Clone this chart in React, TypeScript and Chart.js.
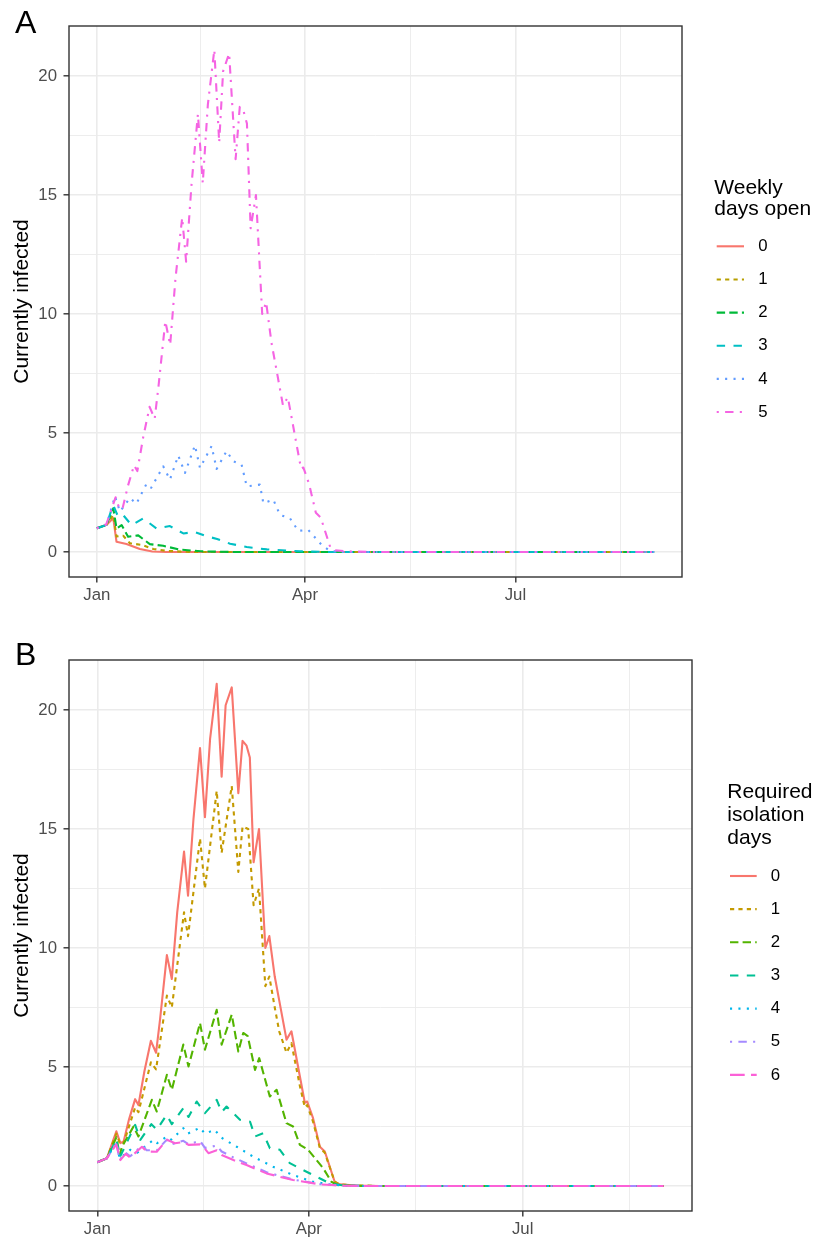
import React, { useEffect, useRef } from 'react';
import { Chart, registerables } from 'chart.js';

Chart.register(...registerables);

const FONT = '"Liberation Sans", Arial, Helvetica, sans-serif';

// ---- axis ticks ----
const monthTickDays = [0, 90, 181];
const monthTickLabels = ['Jan', 'Apr', 'Jul'];
const minorTickDays = [45, 135.5, 226.5];
const yMajorTicks = [0, 5, 10, 15, 20];
const yMinorTicks = [2.5, 7.5, 12.5, 17.5];
const xRange = [-12.05, 253.05];
const yRange = [-1.05, 22.1];

// ---- series styling (ggplot hue palette / linetypes) ----
const openLabels = ['0', '1', '2', '3', '4', '5'];
const openColors = ['#F8766D', '#B79F00', '#00BA38', '#00BFC4', '#619CFF', '#F564E3'];
const isoLabels = ['0', '1', '2', '3', '4', '5', '6'];
const isoColors = ['#F8766D', '#C49A00', '#53B400', '#00C094', '#00B6EB', '#A58AFF', '#FB61D7'];
const LW = 2.1;
const linetypes = [[], [2, 2], [4, 2], [4, 4], [1, 3], [1, 3, 4, 3], [7, 3]];

// ---- data: [day since Jan 1, currently infected] ----
// Baseline scenario (5 weekly days open, 0 isolation days)
const baseline: [number, number][] = [
  [0, 1.0], [4.1, 1.17], [8.1, 2.3], [9.8, 1.8], [11.2, 1.87], [13.5, 2.8], [16.1, 3.65], [17.5, 3.4],
  [20, 4.8], [22.8, 6.1], [25, 5.6], [26.7, 7.0], [29.6, 9.7], [31.7, 8.7], [34, 11.5], [36.9, 14.05],
  [38.6, 12.2], [40.9, 15.4], [43.7, 18.4], [45.8, 15.5], [48, 18.8], [50.8, 21.1], [52.9, 17.2],
  [54.6, 20.2], [57.2, 20.95], [60, 16.5], [61.8, 18.7], [63.5, 18.5], [64.9, 18.0], [66.5, 13.6],
  [68.8, 15.0], [71.5, 10.0], [73.2, 10.5], [75.5, 8.8], [77.4, 7.8], [80.5, 6.15], [82.6, 6.5],
  [86.2, 4.6], [88.3, 3.5], [89.3, 3.55], [91.8, 2.85], [94.7, 1.65], [96.8, 1.45], [101, 0.18],
  [103.1, 0.07], [110, 0.02], [120, 0], [241, 0],
];

// Panel A: weekly days open
const open0: [number, number][] = [
  [0, 1.0], [4.2, 1.14], [7.1, 1.42], [8.5, 0.43], [12.8, 0.34], [18.6, 0.13], [24, 0.02], [30, 0], [241, 0],
];
const open1: [number, number][] = [
  [0, 1.0], [4.2, 1.14], [7.1, 1.56], [8.5, 0.65], [11.4, 0.68], [14.3, 0.37], [19.3, 0.3], [24.4, 0.13],
  [30, 0.05], [40, 0], [241, 0],
];
const open2: [number, number][] = [
  [0, 1.0], [4.2, 1.14], [7.1, 1.84], [8.5, 0.99], [10.7, 1.13], [13.5, 0.64], [17.9, 0.7], [22.9, 0.33],
  [28.7, 0.26], [35.9, 0.1], [45, 0.03], [60, 0], [241, 0],
];
const open3: [number, number][] = [
  [0, 1.0], [4.2, 1.14], [7, 1.98], [9.2, 1.48], [11.4, 1.55], [15, 1.13], [20, 1.41], [25.8, 0.99],
  [31.6, 1.09], [37.4, 0.78], [42.4, 0.84], [47.5, 0.66], [52, 0.55], [57.6, 0.35], [64.8, 0.21],
  [73.5, 0.11], [87.8, 0.03], [100, 0], [241, 0],
];
const open4: [number, number][] = [
  [0, 1.0], [4.2, 1.14], [7.8, 2.34], [10, 1.7], [14.3, 2.27], [17.1, 2.03], [21.5, 2.87], [23.5, 2.7],
  [28.7, 3.6], [31.6, 3.04], [35.2, 4.05], [38.1, 3.32], [42.4, 4.48], [44.6, 3.53], [49.6, 4.45],
  [51.8, 3.49], [56.1, 4.24], [59, 3.81], [62.6, 3.67], [64.8, 2.76], [70.5, 2.83], [72, 2.05],
  [76.3, 2.2], [79.2, 1.56], [83.5, 1.42], [87.1, 0.89], [91.4, 0.93], [97.2, 0.3], [100.8, 0.05],
  [106, 0], [241, 0],
];
const open5 = baseline;

// Panel B: required isolation days
const iso0 = baseline;
const iso1: [number, number][] = [
  [0, 1.0], [4.1, 1.17], [8.1, 2.2], [9.8, 1.75], [11.2, 1.8], [16.1, 3.3], [17.5, 3.1], [22.8, 5.2],
  [25, 4.9], [29.6, 8.0], [31.7, 7.5], [36.9, 11.5], [38.6, 10.5], [43.7, 14.6], [45.8, 12.5],
  [50.8, 16.6], [52.9, 14.0], [57.2, 16.8], [60, 13.2], [61.8, 15.1], [64.2, 15.0], [66.5, 11.8],
  [68.8, 12.5], [71.5, 8.4], [73.2, 8.8], [75.5, 7.5], [77.4, 6.5], [80.5, 5.6], [82.6, 6.0],
  [86.2, 4.2], [88.3, 3.3], [89.3, 3.4], [91.8, 2.7], [94.7, 1.6], [96.8, 1.4], [101, 0.18],
  [103.1, 0.07], [110, 0.02], [120, 0], [241, 0],
];
const iso2: [number, number][] = [
  [0, 1.0], [4.1, 1.17], [8.1, 2.05], [9.5, 1.3], [10.5, 1.65], [15.4, 2.5], [17.5, 2.08], [23.2, 3.62],
  [25.3, 3.13], [29.6, 4.67], [31.7, 4.04], [36.6, 5.94], [38.8, 5.02], [43.7, 6.85], [45.8, 5.73],
  [50.8, 7.4], [52.9, 5.94], [57.2, 7.2], [60, 5.65], [62.1, 6.43], [64, 6.3], [67.1, 4.88],
  [68.9, 5.37], [73.4, 3.76], [76.3, 4.04], [80.5, 2.64], [83.3, 2.5], [86.2, 1.73], [89.7, 1.52],
  [96.1, 0.75], [99.6, 0.18], [102, 0.05], [110, 0.01], [120, 0], [241, 0],
];
const iso3: [number, number][] = [
  [0, 1.0], [4.1, 1.17], [8.1, 1.95], [9.5, 1.2], [11, 1.5], [16.1, 2.57], [18.3, 1.94], [23, 2.6],
  [25.3, 2.36], [29.5, 2.99], [31.7, 2.6], [36.6, 3.27], [38.8, 2.9], [42.3, 3.55], [45.8, 3.06],
  [50.8, 3.62], [52.9, 3.1], [55, 3.34], [60.7, 2.78], [65, 2.7], [67.1, 2.08], [70.6, 2.22],
  [73.4, 1.59], [77.7, 1.52], [81.9, 0.96], [87.6, 0.67], [93.3, 0.39], [98.9, 0.11], [105, 0.02],
  [115, 0], [241, 0],
];
const iso4: [number, number][] = [
  [0, 1.0], [4.1, 1.17], [8.1, 1.85], [9.5, 1.15], [14, 1.52], [17, 1.4], [23.9, 1.94], [25.5, 1.8],
  [29.6, 2.08], [31.5, 1.95], [36.6, 2.43], [38.5, 2.2], [43.7, 2.45], [45.8, 2.2], [50, 2.36],
  [52.5, 2.05], [59.3, 1.65], [66.4, 1.23], [74.8, 0.81], [83.3, 0.46], [91.8, 0.18], [100, 0.05],
  [110, 0], [241, 0],
];
const iso5: [number, number][] = [
  [0, 1.0], [4.1, 1.17], [8.1, 1.8], [9.5, 1.1], [12, 1.4], [14, 1.25], [19, 1.7], [21, 1.5],
  [25.3, 1.5], [29.6, 1.95], [31.5, 1.75], [36.6, 1.9], [38.8, 1.75], [43.7, 1.9], [45.8, 1.6],
  [50.8, 1.7], [52.9, 1.45], [57.9, 1.2], [63.5, 0.95], [72, 0.58], [83.3, 0.27], [94.7, 0.08],
  [105, 0.01], [115, 0], [241, 0],
];
const iso6: [number, number][] = [
  [0, 1.0], [4.1, 1.17], [8.1, 1.75], [9.8, 1.09], [12, 1.35], [14, 1.2], [19, 1.65], [21, 1.45],
  [25.3, 1.44], [29.6, 1.94], [33.1, 1.8], [36.6, 1.85], [38.8, 1.73], [43.7, 1.75], [45.1, 1.65],
  [47.3, 1.38], [50.8, 1.5], [52.9, 1.3], [57.9, 1.09], [63.5, 0.88], [72, 0.53], [83.3, 0.25],
  [94.7, 0.07], [105, 0.01], [115, 0], [241, 0],
];

const openSeries = [open0, open1, open2, open3, open4, open5];
const isoSeries = [iso0, iso1, iso2, iso3, iso4, iso5, iso6];

function buildDatasets(series: [number, number][][], labels: string[], colors: string[]) {
  return series.map((pts, i) => ({
    label: labels[i],
    data: pts.map(([x, y]) => ({ x, y })),
    borderColor: colors[i],
    backgroundColor: colors[i],
    borderWidth: LW,
    borderDash: linetypes[i].map((d) => d * LW),
    borderCapStyle: 'butt',
    borderJoinStyle: 'round',
    pointRadius: 0,
    tension: 0,
    fill: false,
    order: -i,
  }));
}

type Decor = {
  panel: string; panelX: number; panelY: number;
  title: string[]; titleX: number; titleY: number; titleStep: number;
  keyX0: number; keyX1: number; textX: number; keyY: number; keyStep: number;
};

function makeDecor(d: Decor) {
  return {
    id: 'decor',
    afterDraw(chart: any) {
      const { ctx, chartArea: a } = chart;
      ctx.save();
      ctx.setLineDash([]);
      ctx.strokeStyle = '#333333';
      ctx.lineWidth = 1.4;
      ctx.strokeRect(a.left, a.top, a.right - a.left, a.bottom - a.top);

      ctx.fillStyle = '#000000';
      ctx.textAlign = 'left';
      ctx.textBaseline = 'alphabetic';
      ctx.font = `32px ${FONT}`;
      ctx.fillText(d.panel, d.panelX, d.panelY);

      ctx.textBaseline = 'middle';
      ctx.font = `21px ${FONT}`;
      d.title.forEach((t, i) => ctx.fillText(t, d.titleX, d.titleY + i * d.titleStep));

      ctx.font = `16.8px ${FONT}`;
      chart.data.datasets.forEach((ds: any, i: number) => {
        const y = d.keyY + i * d.keyStep;
        ctx.strokeStyle = ds.borderColor;
        ctx.lineWidth = ds.borderWidth;
        ctx.lineCap = 'butt';
        ctx.setLineDash(ds.borderDash || []);
        ctx.beginPath();
        ctx.moveTo(d.keyX0, y);
        ctx.lineTo(d.keyX1, y);
        ctx.stroke();
        ctx.setLineDash([]);
        ctx.fillStyle = '#000000';
        ctx.fillText(ds.label, d.textX, y);
      });
      ctx.restore();
    },
  };
}

const isMajorX = (v: number) => monthTickDays.indexOf(v) >= 0;
const isMajorY = (v: number) => yMajorTicks.indexOf(v) >= 0;

type PanelProps = {
  top: number; height: number; padTop: number; padRight: number; xAxisH: number;
  datasets: any[]; decor: Decor;
};

function Panel({ top, height, padTop, padRight, xAxisH, datasets, decor }: PanelProps) {
  const ref = useRef<HTMLCanvasElement>(null);
  useEffect(() => {
    const chart = new Chart(ref.current as HTMLCanvasElement, {
      type: 'line',
      data: { datasets },
      options: {
        animation: false,
        responsive: false,
        events: [],
        layout: { padding: { left: 10, top: padTop, right: padRight, bottom: 0 } },
        plugins: { legend: { display: false }, tooltip: { enabled: false } },
        scales: {
          x: {
            type: 'linear',
            min: xRange[0],
            max: xRange[1],
            afterBuildTicks: (s: any) => {
              s.ticks = [...monthTickDays, ...minorTickDays].sort((p, q) => p - q).map((v) => ({ value: v }));
            },
            afterFit: (s: any) => { s.height = xAxisH; },
            ticks: {
              autoSkip: false, maxRotation: 0, minRotation: 0, padding: 3,
              color: '#4D4D4D', font: { family: FONT, size: 16.8 },
              callback: (v: any) => {
                const i = monthTickDays.indexOf(Number(v));
                return i >= 0 ? monthTickLabels[i] : '';
              },
            },
            grid: {
              color: '#EBEBEB',
              lineWidth: (c: any) => (isMajorX(c.tick?.value) ? 1.6 : 0.9),
              tickColor: (c: any) => (isMajorX(c.tick?.value) ? '#333333' : 'rgba(0,0,0,0)'),
              tickWidth: 1.4,
              tickLength: 5.5,
            },
            border: { display: false },
          },
          y: {
            type: 'linear',
            min: yRange[0],
            max: yRange[1],
            afterBuildTicks: (s: any) => {
              s.ticks = [...yMajorTicks, ...yMinorTicks].sort((p, q) => p - q).map((v) => ({ value: v }));
            },
            afterFit: (s: any) => { s.width = 59; },
            ticks: {
              autoSkip: false, padding: 6.5,
              color: '#4D4D4D', font: { family: FONT, size: 16.8 },
              callback: (v: any) => (isMajorY(Number(v)) ? String(v) : ''),
            },
            grid: {
              color: '#EBEBEB',
              lineWidth: (c: any) => (isMajorY(c.tick?.value) ? 1.6 : 0.9),
              tickColor: (c: any) => (isMajorY(c.tick?.value) ? '#333333' : 'rgba(0,0,0,0)'),
              tickWidth: 1.4,
              tickLength: 5.5,
            },
            border: { display: false },
            title: {
              display: true, text: 'Currently infected', color: '#000000',
              font: { family: FONT, size: 21 }, padding: { top: 0, bottom: 0 },
            },
          },
        },
      } as any,
      plugins: [makeDecor(decor)],
    });
    return () => chart.destroy();
  }, []);
  return (
    <canvas
      ref={ref}
      width={816}
      height={height}
      style={{ position: 'absolute', left: 0, top, width: 816, height, display: 'block' }}
    />
  );
}

export default function App() {
  const dsA = buildDatasets(openSeries, openLabels, openColors);
  const dsB = buildDatasets(isoSeries, isoLabels, isoColors);
  return (
    <div style={{ position: 'absolute', left: 0, top: 0, width: 816, height: 1237, background: '#ffffff' }}>
      <Panel
        top={0} height={610} padTop={26} padRight={134} xAxisH={33} datasets={dsA}
        decor={{
          panel: 'A', panelX: 15, panelY: 33,
          title: ['Weekly', 'days open'], titleX: 714.3, titleY: 188, titleStep: 21.5,
          keyX0: 716.7, keyX1: 744, textX: 758.3, keyY: 246.3, keyStep: 33.15,
        }}
      />
      <Panel
        top={610} height={627} padTop={50} padRight={124} xAxisH={26} datasets={dsB}
        decor={{
          panel: 'B', panelX: 15, panelY: 55,
          title: ['Required', 'isolation', 'days'], titleX: 727.3, titleY: 182.5, titleStep: 22.8,
          keyX0: 730, keyX1: 756.7, textX: 770.7, keyY: 266, keyStep: 33.15,
        }}
      />
    </div>
  );
}
